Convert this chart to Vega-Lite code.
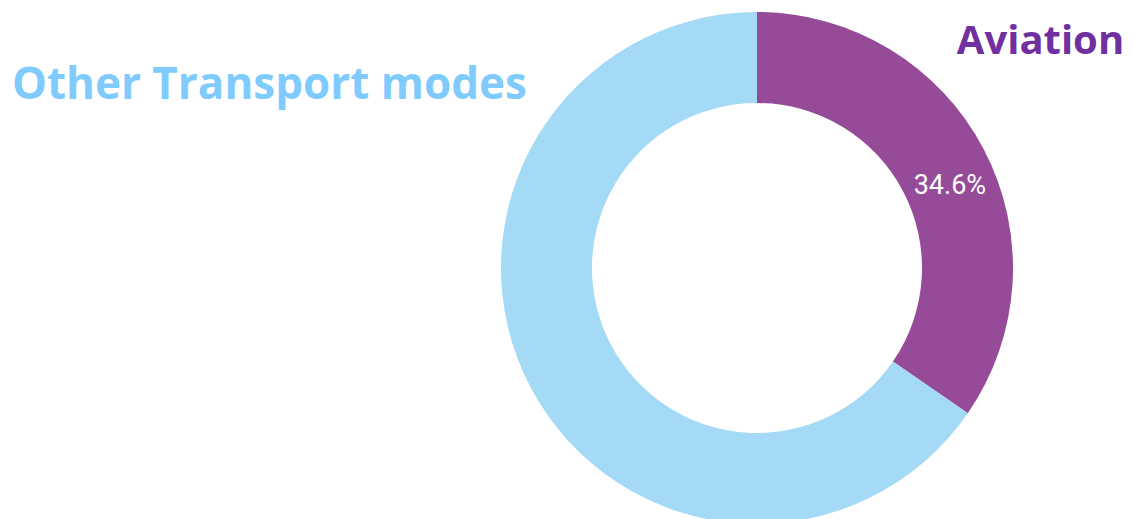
{
  "$schema": "https://vega.github.io/schema/vega-lite/v6.json",
  "autosize": "none",
  "width": 752,
  "height": 502,
  "padding": {"left": 381, "top": 17, "right": 0, "bottom": 0},
  "background": "white",
  "config": {"view": {"stroke": null}},
  "data": {
    "values": [
      {"mode": "Aviation", "share": 0.346},
      {"mode": "Other Transport modes", "share": 0.654}
    ]
  },
  "encoding": {
    "theta": {"field": "share", "type": "quantitative", "stack": true}
  },
  "layer": [
    {
      "mark": {"type": "arc", "innerRadius": 165, "outerRadius": 256},
      "encoding": {
        "color": {
          "field": "mode",
          "type": "nominal",
          "scale": {"domain": ["Aviation", "Other Transport modes"], "range": ["#954B97", "#A4DAF5"]},
          "legend": null
        }
      }
    },
    {
      "mark": {"type": "text", "radius": 210, "font": "Roboto", "fontSize": 27, "fill": "#FFFFFF", "dx": 7, "dy": 24, "align": "center", "baseline": "alphabetic"},
      "encoding": {
        "detail": {"field": "mode", "type": "nominal"},
        "text": {
          "condition": {"test": "datum.mode === 'Aviation'", "field": "share", "type": "quantitative", "format": ".1%"},
          "value": ""
        }
      }
    },
    {
      "mark": {"type": "text", "radius": 318, "font": "Open Sans", "fontWeight": "bold", "fontSize": 40, "fill": "#7030A0", "dx": 2, "dy": -66, "align": "center", "baseline": "alphabetic"},
      "encoding": {
        "detail": {"field": "mode", "type": "nominal"},
        "text": {
          "condition": {"test": "datum.mode === 'Aviation'", "field": "mode", "type": "nominal"},
          "value": ""
        }
      }
    },
    {
      "mark": {"type": "text", "radius": 300, "font": "Open Sans", "fontWeight": "bold", "fontSize": 44, "fill": "#7FCBFE", "dx": -222, "dy": -309, "align": "center", "baseline": "alphabetic"},
      "encoding": {
        "detail": {"field": "mode", "type": "nominal"},
        "text": {
          "condition": {"test": "datum.mode === 'Other Transport modes'", "field": "mode", "type": "nominal"},
          "value": ""
        }
      }
    }
  ]
}
